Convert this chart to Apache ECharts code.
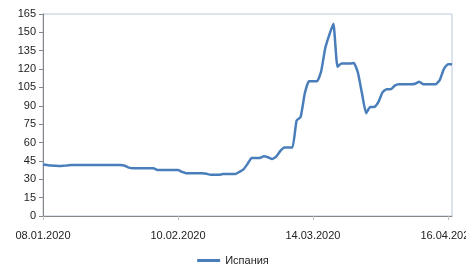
<!DOCTYPE html>
<html>
<head>
<meta charset="utf-8">
<script src="https://cdn.jsdelivr.net/npm/echarts@6/dist/echarts.min.js"></script>
<style>
  html, body { margin: 0; padding: 0; background: #fff; }
  #chart { width: 466px; height: 272px; }
</style>
</head>
<body>
<div id="chart"></div>
<script>
// daily dates 08.01.2020 .. 17.04.2020
const startDate = Date.UTC(2020, 0, 8);
const dayCount = 101;
const categories = [];
for (let i = 0; i < dayCount; i++) {
  const d = new Date(startDate + i * 86400000);
  const dd = String(d.getUTCDate()).padStart(2, "0");
  const mm = String(d.getUTCMonth() + 1).padStart(2, "0");
  categories.push(dd + "." + mm + "." + d.getUTCFullYear());
}

const seriesName = "Испания";
const spainValues = [
  42, 41.6, 41.2, 41, 40.8, 41, 41.3, 41.6, 41.7, 41.7,
  41.7, 41.7, 41.7, 41.7, 41.7, 41.7, 41.7, 41.7, 41.7, 41.7,
  41, 39.5, 39, 39, 39, 39, 39, 39, 37.5, 37.5,
  37.5, 37.5, 37.5, 37.5, 36, 35, 35, 35, 35, 35,
  34.5, 33.6, 33.6, 33.6, 34.3, 34.3, 34.3, 34.3, 36, 38,
  42.5, 47.4, 47.4, 47.4, 48.8, 48, 46.5, 48.5, 53, 56,
  56, 56, 78, 81, 100, 110, 110, 110, 118, 137,
  148, 157, 122, 124.5, 124.5, 124.5, 125, 117, 100, 84,
  89, 89, 93, 101, 103.5, 103.5, 106.5, 107.6, 107.6, 107.6,
  107.6, 108, 109.7, 107.6, 107.6, 107.6, 107.6, 111, 120, 124,
  124
];

const yMin = 0;
const yMax = 165;
const yStep = 15;

const chart = echarts.init(document.getElementById("chart"), null, { renderer: "canvas" });

const options = {
  animation: false,
  textStyle: { fontFamily: "Liberation Sans" },
  grid: {
    left: 43,
    right: 14,
    top: 14,
    bottom: 56,
    show: true,
    borderColor: "#b9c7dc",
    borderWidth: 1,
    containLabel: false,
    outerBoundsMode: "none",
  },
  legend: {
    bottom: 1,
    left: "center",
    icon: "rect",
    itemWidth: 23,
    itemHeight: 3,
    itemGap: 4,
    textStyle: { fontSize: 11, color: "#222", fontFamily: "Liberation Sans" },
    data: [seriesName],
  },
  xAxis: {
    type: "category",
    data: categories,
    boundaryGap: false,
    axisLine: { lineStyle: { color: "#868686", width: 1 } },
    axisTick: { show: true, interval: 32, length: 4, lineStyle: { color: "#bfbfbf" } },
    axisLabel: {
      interval: 32,
      margin: 14,
      fontSize: 11,
      color: "#222",
      hideOverlap: false,
      alignMaxLabel: "center",
      alignMinLabel: "center",
    },
    splitLine: { show: false },
  },
  yAxis: {
    type: "value",
    min: yMin,
    max: yMax,
    interval: yStep,
    axisLine: { show: true, lineStyle: { color: "#868686", width: 1 } },
    axisTick: { show: true, length: 4, lineStyle: { color: "#868686" } },
    axisLabel: { fontSize: 11, color: "#222", margin: 7 },
    splitLine: { show: false },
  },
  series: [
    {
      name: seriesName,
      type: "line",
      data: spainValues,
      showSymbol: false,
      symbol: "none",
      smooth: 0.15,
      lineStyle: { color: "#4a7ebb", width: 2.5, join: "round" },
      itemStyle: { color: "#4a7ebb" },
    },
  ],
};

chart.setOption(options);
</script>
</body>
</html>
